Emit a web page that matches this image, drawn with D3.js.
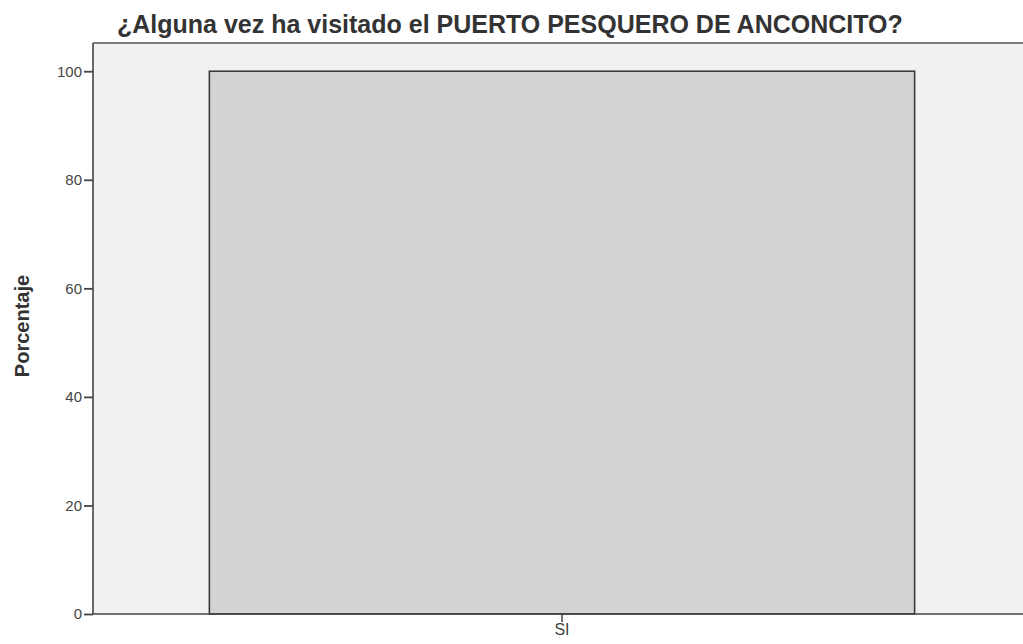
<!DOCTYPE html>
<html>
<head>
<meta charset="utf-8">
<script src="https://cdn.jsdelivr.net/npm/d3@7"></script>
<style>
	body { margin: 0; background: #fff; }
	svg { display: block; font-family: "Liberation Sans", Arial, sans-serif; }
</style>
</head>
<body>
<div id="chart"></div>
<script>
// chart data
const categories = ['SI'];
const values = [100];
const yTicks = [0, 20, 40, 60, 80, 100];
const titleText = '¿Alguna vez ha visitado el PUERTO PESQUERO DE ANCONCITO?';
const yLabel = 'Porcentaje';

const width = 1023, height = 644;
const m = {top: 43, left: 93, right: -8, bottom: 30};

const svg = d3.select('#chart').append('svg')
	.attr('width', width)
	.attr('height', height);

const innerW = width - (m.left + m.right);
const innerH = height - (m.top + m.bottom);

const x = d3.scaleBand()
	.domain(categories)
	.range([0, innerW])
	.paddingInner(0)
	.paddingOuter(0.165);

const y = d3.scaleLinear()
	.domain([0, 105.2])
	.range([innerH, 0]);

const plot = svg.append('g')
	.attr('transform', 'translate(' + m.left + ',' + m.top + ')');

// background panel
plot.append('rect')
	.attr('x', 0).attr('y', 0)
	.attr('width', innerW).attr('height', innerH)
	.style('fill', '#f1f1f3');

// bars
plot.selectAll('.bar')
	.data(values)
	.enter().append('rect')
	.attr('class', 'bar')
	.attr('x', (d, i) => x(categories[i]))
	.attr('y', d => y(d))
	.attr('width', x.bandwidth())
	.attr('height', d => innerH - y(d))
	.style('fill', '#d3d3d6')
	.style('stroke', '#3a3a3a')
	.style('stroke-width', 1.6);

// frame top
plot.append('line')
	.attr('x1', 0).attr('x2', innerW)
	.attr('y1', 0).attr('y2', 0)
	.style('stroke', '#555').style('stroke-width', 1.5);

// y axis
const yAxis = plot.append('g')
	.call(d3.axisLeft(y).tickValues(yTicks).tickSize(9).tickPadding(2));
yAxis.select('.domain').attr('d', 'M0,0V' + innerH).style('stroke', '#444').style('stroke-width', 1.6);
yAxis.selectAll('.tick line').style('stroke', '#444').style('stroke-width', 1.8);
yAxis.selectAll('.tick text')
	.style('font-size', '15px')
	.style('fill', '#444');

// x axis
const xAxis = plot.append('g')
	.attr('transform', 'translate(0,' + innerH + ')')
	.call(d3.axisBottom(x).tickSize(8).tickPadding(2));
xAxis.select('.domain').attr('d', 'M0,0H' + innerW).style('stroke', '#444').style('stroke-width', 1.6);
xAxis.selectAll('.tick line').style('stroke', '#444').style('stroke-width', 1.5);
xAxis.selectAll('.tick text')
	.style('font-size', '16px')
	.style('fill', '#444');

// title
svg.append('text')
	.attr('x', 117).attr('y', 33)
	.style('font-size', '25px')
	.style('font-weight', 'bold')
	.style('fill', '#333')
	.text(titleText);

// y label
svg.append('text')
	.attr('transform', 'translate(29,' + 326 + ') rotate(-90)')
	.style('text-anchor', 'middle')
	.style('font-size', '20px')
	.style('font-weight', 'bold')
	.style('fill', '#333')
	.text(yLabel);
</script>
</body>
</html>
